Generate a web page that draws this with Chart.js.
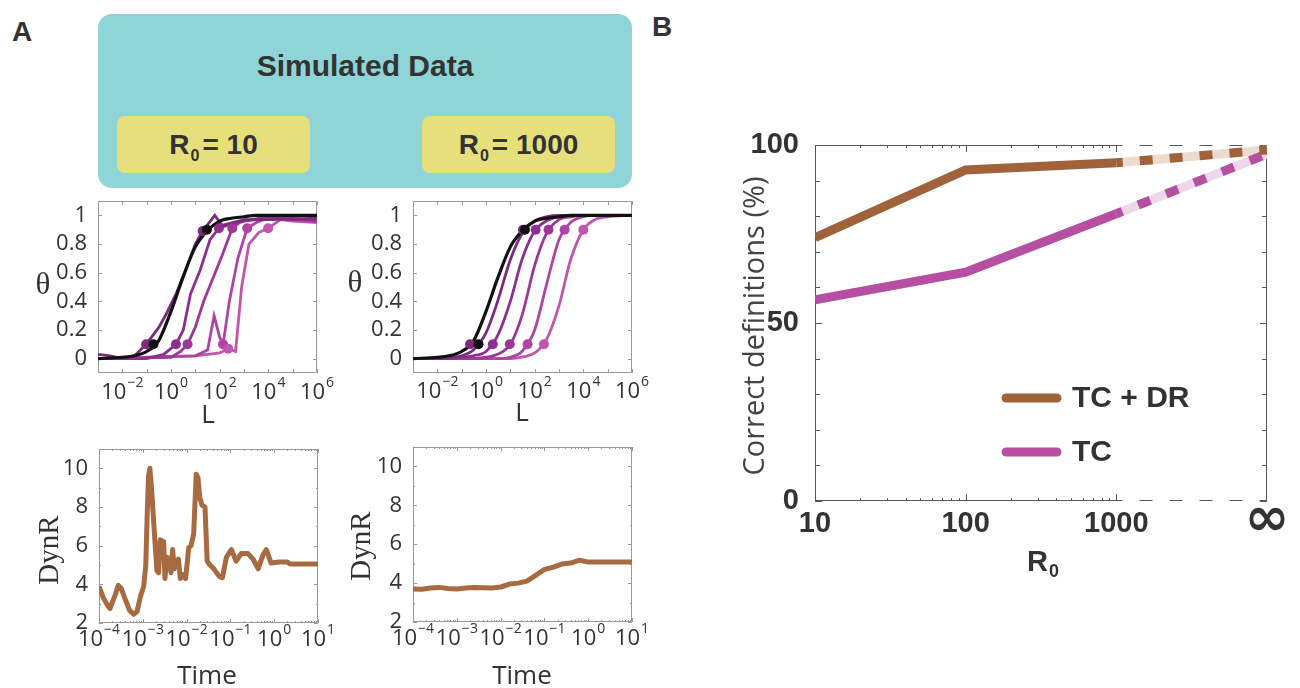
<!DOCTYPE html>
<html>
<head>
<meta charset="utf-8">
<title>Simulated data</title>
<script src="https://cdn.jsdelivr.net/npm/chart.js@4.4.1/dist/chart.umd.min.js"></script>
<style>
  body { margin: 0; width: 1300px; height: 688px; background: #fff; position: relative; overflow: hidden;
         font-family: "Liberation Sans", Arial, sans-serif; color: #333; }
  canvas { position: absolute; }
  .panel { position: absolute; font-weight: bold; font-size: 28px; line-height: 28px; }
  #teal { position: absolute; left: 98px; top: 14px; width: 534px; height: 174px; background: #8fd4d6; border-radius: 14px; }
  #teal .title { position: absolute; left: 0; right: 0; top: 37px; text-align: center; font-weight: bold; font-size: 30px; line-height: 30px; }
  .yel { position: absolute; top: 102px; width: 193px; height: 57px; background: #e6df7b; border-radius: 8px;
         display: flex; align-items: center; justify-content: center; font-weight: bold; font-size: 28px; }
  .yel .s0 { font-size: 16px; position: relative; top: 11px; margin: 0 3px 0 1px; }
</style>
</head>
<body>
<div class="panel" style="left:12px;top:18px">A</div>
<div class="panel" style="left:652px;top:13px">B</div>
<div id="teal">
  <div class="title">Simulated Data</div>
  <div class="yel" style="left:19px">R<span class="s0">0</span>= 10</div>
  <div class="yel" style="left:324px">R<span class="s0">0</span>= 1000</div>
</div>
<canvas id="theta10"></canvas>
<canvas id="theta1000"></canvas>
<canvas id="dyn10"></canvas>
<canvas id="dyn1000"></canvas>
<canvas id="panelB"></canvas>
<script>
// ---- axes ----
const lDecades = [1e-3, 1e-2, 1e-1, 1, 10, 100, 1e3, 1e4, 1e5, 1e6];
const lLabelExp = [-2, 0, 2, 4, 6];
const thetaTicks = [0, 0.2, 0.4, 0.6, 0.8, 1];
const tDecades = [1e-4, 1e-3, 1e-2, 1e-1, 1, 10];
const tLabelExp = [-4, -3, -2, -1, 0, 1];
const dynTicks = [2, 4, 6, 8, 10];

// ---- theta vs L, R0 = 1000 (smooth curves on a common grid) ----
const lGrid = [0.001, 0.01, 0.03, 0.1, 0.3, 1, 3, 10, 30, 100, 300, 1000, 3000, 10000, 30000, 100000, 1000000];
const thetaBlack = [0.00, 0.01, 0.02, 0.05, 0.12, 0.33, 0.56, 0.78, 0.89, 0.96, 0.98, 0.99, 1.00, 1.00, 1.00, 1.00, 1.00];
const theta1000 = [
  [0.00, 0.00, 0.01, 0.02, 0.06, 0.18, 0.40, 0.69, 0.87, 0.96, 0.99, 1.00, 1.00, 1.00, 1.00, 1.00, 1.00],
  [0.00, 0.00, 0.00, 0.01, 0.02, 0.05, 0.16, 0.40, 0.69, 0.89, 0.96, 0.99, 1.00, 1.00, 1.00, 1.00, 1.00],
  [0.00, 0.00, 0.00, 0.00, 0.00, 0.01, 0.03, 0.10, 0.30, 0.65, 0.87, 0.97, 0.99, 1.00, 1.00, 1.00, 1.00],
  [0.00, 0.00, 0.00, 0.00, 0.00, 0.00, 0.00, 0.01, 0.05, 0.20, 0.51, 0.83, 0.95, 0.99, 1.00, 1.00, 1.00],
  [0.00, 0.00, 0.00, 0.00, 0.00, 0.00, 0.00, 0.00, 0.01, 0.04, 0.13, 0.37, 0.69, 0.90, 0.97, 0.99, 1.00]
];
const dots1000L = [0.22, 0.49, 1.9, 9.5, 51, 240, 33, 40, 110, 370, 1700, 10000];
const dots1000Y = [0.1, 0.1, 0.1, 0.1, 0.1, 0.1, 0.9, 0.9, 0.9, 0.9, 0.9, 0.9];

// ---- theta vs L, R0 = 10 (jagged curves) ----
const theta10L = [
  [0.001, 0.0032, 0.01, 0.032, 0.095, 0.32, 0.63, 1.6, 4, 10, 20, 63, 126, 1000, 10000, 1e6],
  [0.001, 0.1, 0.5, 1.6, 3.2, 6.3, 16, 40, 93, 200, 1000, 10000, 1e5, 1e6],
  [0.001, 1, 2.5, 4.8, 10, 22, 50, 126, 330, 800, 3200, 1e5, 1e6],
  [0.001, 10, 32, 59, 100, 138, 250, 560, 1350, 3200, 10000, 1e6],
  [0.001, 10, 100, 224, 450, 800, 1600, 4000, 9800, 32000, 1e5, 1e6]
];
const theta10 = [
  [0.03, 0.02, 0.00, 0.02, 0.10, 0.22, 0.31, 0.45, 0.62, 0.80, 0.89, 1.00, 0.93, 0.97, 0.97, 0.98],
  [0.00, 0.00, 0.03, 0.10, 0.20, 0.45, 0.62, 0.83, 0.91, 0.93, 0.96, 0.99, 0.97, 0.97],
  [0.00, 0.01, 0.05, 0.10, 0.22, 0.40, 0.55, 0.72, 0.91, 0.96, 0.97, 0.98, 0.96],
  [0.00, 0.02, 0.06, 0.30, 0.15, 0.10, 0.40, 0.70, 0.91, 0.95, 0.98, 0.96],
  [0.00, 0.02, 0.04, 0.07, 0.05, 0.50, 0.80, 0.88, 0.91, 0.97, 0.96, 0.95]
];
const dots10L = [0.095, 0.19, 1.6, 4.8, 138, 224, 20, 30, 93, 330, 1350, 9800];
const dots10Y = [0.1, 0.1, 0.1, 0.1, 0.1, 0.07, 0.89, 0.9, 0.91, 0.91, 0.91, 0.91];
const purples = ['#7d2a7f', '#8d2f8e', '#9d389a', '#ae44a3', '#c056ad'];
const dotColors = ['#7d2a7f', '#111111', '#8d2f8e', '#9d389a', '#ae44a3', '#c056ad'];

// ---- DynR vs Time ----
const dyn10T = [1.0e-4, 1.26e-4, 1.58e-4, 1.78e-4, 2.3e-4, 2.75e-4, 3.2e-4, 4.0e-4, 5.0e-4, 6.3e-4,
  7.4e-4, 8.9e-4, 1.05e-3, 1.17e-3, 1.26e-3, 1.35e-3, 1.45e-3, 1.58e-3, 1.82e-3, 2.1e-3,
  2.3e-3, 2.5e-3, 3.0e-3, 3.2e-3, 3.55e-3, 4.0e-3, 4.4e-3, 4.8e-3, 5.2e-3, 5.75e-3,
  6.5e-3, 7.2e-3, 8.3e-3, 9.5e-3, 1.12e-2, 1.26e-2, 1.45e-2, 1.66e-2, 1.82e-2, 2.0e-2,
  2.24e-2, 2.63e-2, 2.95e-2, 3.4e-2, 4.2e-2, 5.6e-2, 6.6e-2, 8.1e-2, 0.105, 0.135,
  0.178, 0.25, 0.33, 0.43, 0.55, 0.66, 0.85, 1.3, 2.0, 2.3, 10];
const dyn10 = [3.9, 3.3, 2.9, 2.75, 3.4, 3.95, 3.8, 3.2, 2.65, 2.45,
  2.6, 3.4, 3.9, 5.0, 7.6, 9.6, 10.0, 9.0, 6.8, 4.7,
  4.6, 6.3, 6.2, 4.3, 5.4, 5.3, 4.6, 5.8, 4.8, 5.1,
  5.3, 4.3, 4.5, 4.3, 5.9, 6.0, 6.6, 9.7, 9.5, 8.5,
  8.1, 8.0, 5.2, 5.0, 4.8, 4.4, 4.35, 5.4, 5.8, 5.2,
  5.6, 5.6, 5.3, 4.8, 5.5, 5.8, 5.1, 5.15, 5.15, 5.05, 5.05];
const dyn1000T = [1e-4, 1.6e-4, 2.5e-4, 4e-4, 6.3e-4, 1e-3, 1.6e-3, 2.5e-3, 4e-3, 6.3e-3, 1e-2, 1.6e-2,
  2.5e-2, 4e-2, 6.3e-2, 0.1, 0.16, 0.25, 0.4, 0.63, 1.0, 1.6, 10];
const dyn1000 = [3.70, 3.68, 3.75, 3.78, 3.72, 3.70, 3.75, 3.78, 3.76, 3.75, 3.80, 3.95,
  4.00, 4.10, 4.40, 4.70, 4.82, 4.98, 5.03, 5.18, 5.08, 5.08, 5.08];
const brownA = '#a86a40';

// ---- panel B ----
const rLabels = ['10', '100', '1000', '\u221E'];
const rPos = [10, 100, 1000, 10000];
const tcdr = [74, 93, 95, 98.6];
const tc = [56.5, 64.3, 80.7, 97.5];
const seriesNames = ['TC + DR', 'TC'];
const seriesColors = ['#a0623a', '#b64fa1'];
const seriesLight = ['#ecdcd0', '#f0d6ea'];
const pctTicks = [0, 50, 100];

const pts = (xs, ys) => xs.map((v, i) => ({ x: v, y: ys[i] }));

// draws a centred label, optional sub/superscript
function drawLabel(ctx, t) {
  ctx.save();
  ctx.translate(t.x, t.y);
  if (t.rot) ctx.rotate(t.rot);
  ctx.fillStyle = t.color || '#333';
  const w8 = t.weight || 'normal';
  const main = `${w8} ${t.size}px ${t.family}`;
  const small = `${w8} ${Math.round(t.size * 0.62)}px ${t.family}`;
  ctx.textBaseline = 'middle';
  ctx.textAlign = 'left';
  ctx.font = main;
  const w = ctx.measureText(t.text).width;
  let ws = 0;
  const extra = t.sub || t.sup;
  if (extra) { ctx.font = small; ws = ctx.measureText(extra).width + 1; }
  const x0 = -(w + ws) / 2;
  ctx.font = main;
  ctx.fillText(t.text, x0, 0);
  if (extra) {
    ctx.font = small;
    ctx.fillText(extra, x0 + w + 1, t.sub ? t.size * 0.32 : -t.size * 0.45);
  }
  ctx.restore();
}

const decor = {
  id: 'decor',
  beforeDatasetsDraw(chart, args, o) {
    const { ctx, chartArea: a, scales: { x, y } } = chart;
    ctx.save();
    ctx.strokeStyle = o.frame;
    ctx.lineWidth = 1;
    ctx.beginPath();
    (o.xTicks || []).forEach(([v, len]) => {
      const px = Math.round(x.getPixelForValue(v)) + 0.5;
      ctx.moveTo(px, a.bottom); ctx.lineTo(px, a.bottom - len);
      ctx.moveTo(px, a.top); ctx.lineTo(px, a.top + len);
    });
    (o.yTicks || []).forEach(([v, len]) => {
      const py = Math.round(y.getPixelForValue(v)) + 0.5;
      ctx.moveTo(a.left, py); ctx.lineTo(a.left + len, py);
      ctx.moveTo(a.right, py); ctx.lineTo(a.right - len, py);
    });
    ctx.stroke();
    const L = Math.round(a.left) + 0.5, R = Math.round(a.right) - 0.5;
    const T = Math.round(a.top) + 0.5, B = Math.round(a.bottom) - 0.5;
    const xd = o.dashFrom ? Math.round(x.getPixelForValue(o.dashFrom)) : R;
    ctx.beginPath();
    ctx.moveTo(L, T); ctx.lineTo(L, B);
    ctx.moveTo(R, T); ctx.lineTo(R, B);
    ctx.moveTo(L, T); ctx.lineTo(xd, T);
    ctx.moveTo(L, B); ctx.lineTo(xd, B);
    ctx.stroke();
    if (o.dashFrom) {
      ctx.setLineDash([13, 17]);
      ctx.lineDashOffset = 6.5;
      ctx.beginPath();
      ctx.moveTo(xd, T); ctx.lineTo(R, T);
      ctx.moveTo(xd, B); ctx.lineTo(R, B);
      ctx.stroke();
    }
    ctx.restore();
  },
  afterDraw(chart, args, o) {
    const { ctx, scales: { x } } = chart;
    if (o.pow) {
      o.pow.exps.forEach(e => {
        drawLabel(ctx, { text: '10', sup: e < 0 ? '\u2212' + (-e) : String(e), x: x.getPixelForValue(Math.pow(10, e)),
          y: o.pow.y - o.oy, size: o.pow.size, family: o.pow.family, color: '#333' });
      });
    }
    if (o.xLabels) {
      o.xLabels.values.forEach((v, i) => {
        const lab = o.xLabels.labels[i];
        const inf = lab === '\u221E';
        drawLabel(ctx, { text: lab, x: x.getPixelForValue(v), y: o.xLabels.y - o.oy + (inf ? -3 : 0),
          size: inf ? 54 : o.xLabels.size, weight: 'bold', family: inf ? '"DejaVu Sans"' : o.xLabels.family, color: '#333' });
      });
    }
    (o.texts || []).forEach(t => drawLabel(ctx, Object.assign({}, t, { x: t.x - o.ox, y: t.y - o.oy })));
    if (o.legend) {
      const lg = o.legend;
      lg.names.forEach((n, i) => {
        const yy = lg.ys[i] - o.oy;
        ctx.save();
        ctx.strokeStyle = lg.colors[i];
        ctx.lineWidth = 9;
        ctx.lineCap = 'round';
        ctx.beginPath();
        ctx.moveTo(lg.x1 - o.ox, yy); ctx.lineTo(lg.x2 - o.ox, yy);
        ctx.stroke();
        ctx.fillStyle = '#333';
        ctx.font = 'bold 30px "Liberation Sans", Arial, sans-serif';
        ctx.textBaseline = 'middle';
        ctx.fillText(n, lg.tx - o.ox, yy + 1);
        ctx.restore();
      });
    }
  }
};
Chart.register(decor);

function place(id, left, top, w, h) {
  const c = document.getElementById(id);
  c.width = w; c.height = h;
  c.style.left = left + 'px';
  c.style.top = top + 'px';
  return c;
}

function fixX(h) { return s => { s.height = h; s.paddingLeft = 0; s.paddingRight = 0; }; }
function fixY(w) { return s => { s.width = w; s.paddingTop = 0; s.paddingBottom = 0; }; }
function setTicks(list) { return s => { s.ticks = list.map(v => ({ value: v })); }; }

const aFont = '"Open Sans", "Liberation Sans", sans-serif';
const serif = '"Liberation Serif", serif';

function smallChart(id, left, top, w, h, pad, yw, xCfg, yCfg, datasets, decorOpts) {
  return new Chart(place(id, left, top, w, h), {
    type: 'line',
    data: { datasets },
    options: {
      responsive: false, animation: false,
      layout: { padding: pad },
      plugins: { legend: { display: false }, tooltip: { enabled: false }, decor: Object.assign({ ox: left, oy: top }, decorOpts) },
      scales: {
        x: Object.assign({ grid: { display: false }, border: { display: false }, ticks: { display: false }, afterFit: fixX(40) }, xCfg),
        y: Object.assign({ grid: { display: false }, border: { display: false }, afterFit: fixY(yw),
          ticks: { color: '#333', padding: 3, font: { family: aFont, size: 22 }, callback: v => String(v) } }, yCfg)
      }
    }
  });
}

function thetaSets(curvesL, curves, dotsL, dotsY, smooth) {
  const sets = [];
  sets.push({ data: pts(dotsL, dotsY), showLine: false, pointRadius: 5, pointBorderWidth: 0,
    pointBackgroundColor: dotsL.map((v, i) => dotColors[i % 6]) });
  sets.push({ data: pts(lGrid, thetaBlack), borderColor: '#111', borderWidth: 3.2, pointRadius: 0, cubicInterpolationMode: 'monotone' });
  curves.forEach((c, i) => sets.push({
    data: pts(curvesL[i] || lGrid, c), borderColor: purples[i], borderWidth: 2.8, pointRadius: 0,
    cubicInterpolationMode: smooth ? 'monotone' : 'default', tension: 0
  }));
  return sets;
}

const thetaX = { type: 'logarithmic', min: 1e-3, max: 1e6, afterBuildTicks: setTicks(lDecades) };
const thetaY = { min: -0.1, max: 1.1, afterBuildTicks: setTicks(thetaTicks) };
const thetaTickMarks = {
  xTicks: lDecades.map(v => [v, 4]),
  yTicks: thetaTicks.map(v => [v, 4])
};

// R0 = 10, theta
smallChart('theta10', 0, 190, 345, 250, { top: 11, right: 28, bottom: 27, left: 0 }, 98,
  thetaX, thetaY,
  thetaSets(theta10L, theta10, dots10L, dots10Y, false),
  Object.assign({ frame: '#999', pow: { exps: lLabelExp, y: 393, size: 22, family: aFont },
    texts: [{ text: '\u03B8', x: 43, y: 286, size: 31, family: serif },
            { text: 'L', x: 208, y: 416, size: 26, family: aFont }] }, thetaTickMarks));

// R0 = 1000, theta
smallChart('theta1000', 345, 190, 345, 250, { top: 11, right: 58, bottom: 27, left: 0 }, 68,
  thetaX, thetaY,
  thetaSets([], theta1000, dots1000L, dots1000Y, true),
  Object.assign({ frame: '#999', pow: { exps: lLabelExp, y: 392, size: 22, family: aFont },
    texts: [{ text: '\u03B8', x: 355, y: 284, size: 31, family: serif },
            { text: 'L', x: 522, y: 414, size: 26, family: aFont }] }, thetaTickMarks));

// DynR
const tMinor = [];
tDecades.slice(0, -1).forEach(d => { for (let m = 2; m < 10; m++) tMinor.push([d * m, 2]); });
const dynX = { type: 'logarithmic', min: 1e-4, max: 10, afterBuildTicks: setTicks(tDecades) };
const dynY = { min: 2, max: 11, afterBuildTicks: setTicks(dynTicks) };
const dynMarks = {
  xTicks: tDecades.map(v => [v, 4]).concat(tMinor),
  yTicks: [2, 3, 4, 5, 6, 7, 8, 9, 10, 11].map(v => [v, dynTicks.includes(v) ? 4 : 2])
};
const dynSet = (xs, ys) => [{ data: pts(xs, ys), borderColor: brownA, borderWidth: 5, pointRadius: 0, tension: 0, borderJoinStyle: 'round' }];

smallChart('dyn10', 0, 440, 345, 248, { top: 9, right: 27, bottom: 25, left: 0 }, 99,
  dynX, dynY, dynSet(dyn10T, dyn10),
  Object.assign({ frame: '#999', pow: { exps: tLabelExp, y: 640, size: 22, family: aFont },
    texts: [{ text: 'DynR', x: 50, y: 550, size: 29, rot: -Math.PI / 2, family: serif },
            { text: 'Time', x: 207, y: 677, size: 26, family: aFont }] }, dynMarks));

smallChart('dyn1000', 345, 440, 345, 248, { top: 7, right: 58, bottom: 26, left: 0 }, 68,
  dynX, dynY, dynSet(dyn1000T, dyn1000),
  Object.assign({ frame: '#999', pow: { exps: tLabelExp, y: 639, size: 22, family: aFont },
    texts: [{ text: 'DynR', x: 362, y: 546, size: 29, rot: -Math.PI / 2, family: serif },
            { text: 'Time', x: 522, y: 677, size: 26, family: aFont }] }, dynMarks));

// ---- panel B ----
const bMinor = [];
[10, 100].forEach(d => { for (let m = 2; m < 10; m++) bMinor.push([d * m, 3]); });
const bPct = [];
for (let v = 0; v <= 100; v += 10) bPct.push([v, v % 50 === 0 ? 7 : 5]);
const lastSeg = ctx => ctx.p0DataIndex === 2;
const bLine = (ys, i) => ({
  data: pts(rPos, ys), borderColor: seriesColors[i], borderWidth: 9, pointRadius: 0, borderCapStyle: 'butt',
  segment: { borderDash: c => lastSeg(c) ? [13, 17] : undefined, borderDashOffset: c => lastSeg(c) ? 6.5 : 0 }
});
const bLight = (ys, i) => ({
  data: pts(rPos, ys.map((v, k) => (k >= 2 ? v : null))), borderColor: seriesLight[i], borderWidth: 9,
  pointRadius: 0, borderCapStyle: 'butt', spanGaps: false
});

new Chart(place('panelB', 690, 100, 610, 588), {
  type: 'line',
  data: { datasets: [bLine(tcdr, 0), bLine(tc, 1), bLight(tcdr, 0), bLight(tc, 1)] },
  options: {
    responsive: false, animation: false,
    layout: { padding: { top: 45, right: 33, bottom: 127, left: 0 } },
    plugins: {
      legend: { display: false }, tooltip: { enabled: false },
      decor: {
        ox: 690, oy: 100, frame: '#555', dashFrom: 1000,
        xTicks: [[10, 7], [100, 7], [1000, 7]].concat(bMinor),
        yTicks: bPct,
        xLabels: { values: rPos, labels: rLabels, y: 524, size: 29, family: '"Liberation Sans", Arial, sans-serif' },
        texts: [
          { text: 'Correct definitions (%)', x: 756, y: 326, size: 29, rot: -Math.PI / 2, color: '#444', family: aFont },
          { text: 'R', sub: '0', x: 1043, y: 563, size: 29, weight: 'bold', family: '"Liberation Sans", Arial, sans-serif' }
        ],
        legend: { names: seriesNames, colors: seriesColors, ys: [398, 452], x1: 1006, x2: 1057, tx: 1072 }
      }
    },
    scales: {
      x: { type: 'logarithmic', min: 10, max: 10000, grid: { display: false }, border: { display: false },
        ticks: { display: false }, afterBuildTicks: setTicks(rPos), afterFit: fixX(60) },
      y: { min: 0, max: 100, grid: { display: false }, border: { display: false },
        afterBuildTicks: setTicks(pctTicks), afterFit: fixY(125),
        ticks: { color: '#333', padding: 8, font: { family: '"Liberation Sans", Arial, sans-serif', size: 29, weight: 'bold' } } }
    }
  }
});
</script>
</body>
</html>
